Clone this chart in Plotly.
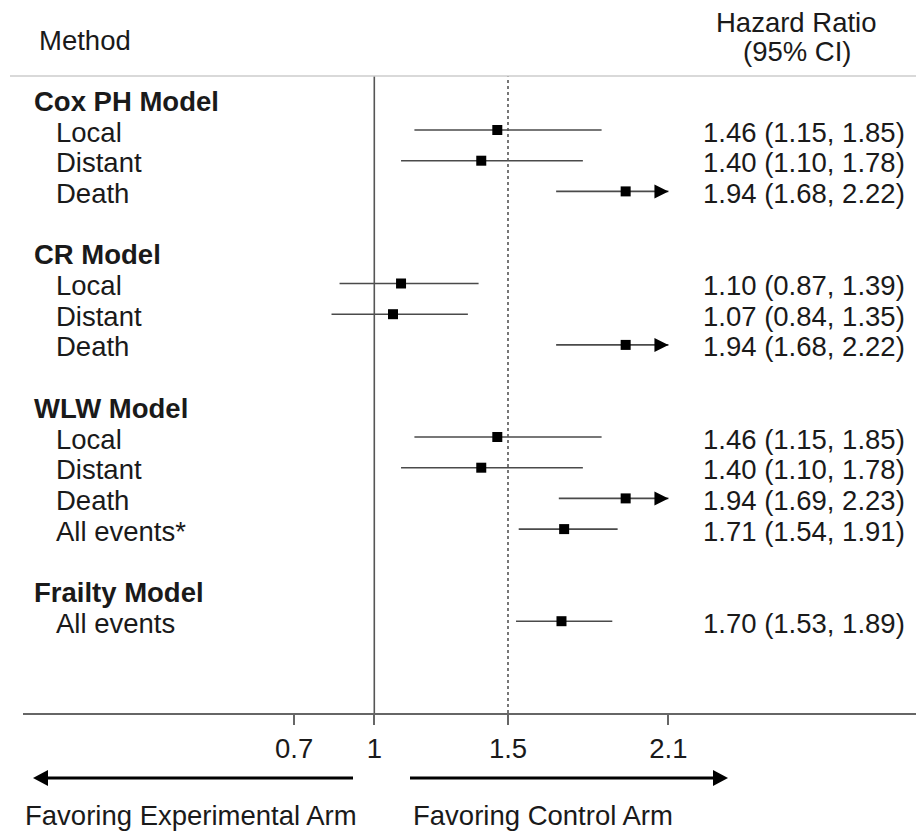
import plotly.graph_objects as go

FONT = "Liberation Sans, Arial, sans-serif"
TEXT_COLOR = "#1a1a1a"
FONT_SIZE = 27.5

# ---- data -------------------------------------------------------------
group_names = ["Cox PH Model", "CR Model", "WLW Model", "Frailty Model"]

cox_outcomes = ["Local", "Distant", "Death"]
cox_hr = [1.46, 1.40, 1.94]
cox_lo = [1.15, 1.10, 1.68]
cox_hi = [1.85, 1.78, 2.22]

cr_outcomes = ["Local", "Distant", "Death"]
cr_hr = [1.10, 1.07, 1.94]
cr_lo = [0.87, 0.84, 1.68]
cr_hi = [1.39, 1.35, 2.22]

wlw_outcomes = ["Local", "Distant", "Death", "All events*"]
wlw_hr = [1.46, 1.40, 1.94, 1.71]
wlw_lo = [1.15, 1.10, 1.69, 1.54]
wlw_hi = [1.85, 1.78, 2.23, 1.91]

frailty_outcomes = ["All events"]
frailty_hr = [1.70]
frailty_lo = [1.53]
frailty_hi = [1.89]

tick_values = [0.7, 1.0, 1.5, 2.1]
tick_labels = ["0.7", "1", "1.5", "2.1"]

null_value = 1.0        # no-effect line
reference_value = 1.5   # dashed reference line
display_max = 2.1       # intervals beyond this end in an arrow

# ---- layout geometry (pixels) -----------------------------------------
W, H = 916, 833
ML, MR, MT, MB = 23, 0, 76, 120
PW, PH = W - ML - MR, H - MT - MB


def px_x(px):
    return (px - ML) / PW


def px_y(py):
    return (H - MB - py) / PH


# ---- assemble rows ----------------------------------------------------
groups = [
    (group_names[0], cox_outcomes, cox_hr, cox_lo, cox_hi),
    (group_names[1], cr_outcomes, cr_hr, cr_lo, cr_hi),
    (group_names[2], wlw_outcomes, wlw_hr, wlw_lo, wlw_hi),
    (group_names[3], frailty_outcomes, frailty_hr, frailty_lo, frailty_hi),
]

headers = []
items = []
row = 0
for name, outs, hrs, los, his in groups:
    headers.append((name, row))
    row += 1
    for o, h, l, u in zip(outs, hrs, los, his):
        items.append(dict(label=o, hr=h, lo=l, hi=u, row=row))
        row += 1
    row += 1

fig = go.Figure()

# confidence interval segments
line_x, line_y = [], []
for it in items:
    line_x += [it["lo"], min(it["hi"], display_max), None]
    line_y += [it["row"], it["row"], None]
fig.add_trace(go.Scatter(
    x=line_x, y=line_y, mode="lines",
    line=dict(color="#4a4a4a", width=1.6),
    hoverinfo="skip", showlegend=False,
))

# point estimates
fig.add_trace(go.Scatter(
    x=[it["hr"] for it in items], y=[it["row"] for it in items],
    mode="markers",
    marker=dict(symbol="square", size=10, color="#000000"),
    showlegend=False,
))

shapes = []

# arrowheads for truncated intervals
for it in items:
    if it["hi"] > display_max:
        shapes.append(dict(
            type="path", xref="x", yref="y",
            xsizemode="pixel", ysizemode="pixel",
            xanchor=display_max, yanchor=it["row"],
            path="M-14,-7 L0,0 L-14,7 Z",
            fillcolor="#000000", line=dict(width=0),
        ))

# no-effect and reference lines
shapes.append(dict(type="line", xref="x", yref="paper",
                   x0=null_value, x1=null_value, y0=0, y1=1,
                   line=dict(color="#555555", width=1.6)))
shapes.append(dict(type="line", xref="x", yref="paper",
                   x0=reference_value, x1=reference_value, y0=0, y1=1,
                   line=dict(color="#555555", width=1.6, dash="3px,3px")))

# header separator
shapes.append(dict(type="line", xref="paper", yref="paper",
                   x0=px_x(10), x1=1, y0=1, y1=1,
                   line=dict(color="#cccccc", width=1.5)))

# direction arrows under the axis
arrow_y = px_y(778)
shapes.append(dict(type="line", xref="paper", yref="paper",
                   x0=px_x(353), x1=px_x(45), y0=arrow_y, y1=arrow_y,
                   line=dict(color="#000000", width=2.8)))
shapes.append(dict(type="path", xref="paper", yref="paper",
                   xsizemode="pixel", ysizemode="pixel",
                   xanchor=px_x(33), yanchor=arrow_y,
                   path="M0,0 L15,-8 L15,8 Z",
                   fillcolor="#000000", line=dict(width=0)))
shapes.append(dict(type="line", xref="paper", yref="paper",
                   x0=px_x(410), x1=px_x(716), y0=arrow_y, y1=arrow_y,
                   line=dict(color="#000000", width=2.8)))
shapes.append(dict(type="path", xref="paper", yref="paper",
                   xsizemode="pixel", ysizemode="pixel",
                   xanchor=px_x(728), yanchor=arrow_y,
                   path="M0,0 L-15,-8 L-15,8 Z",
                   fillcolor="#000000", line=dict(width=0)))

annotations = []


def text(s, x, y, xanchor="left", yref="paper", bold=False, yshift=0):
    annotations.append(dict(
        text=f"<b>{s}</b>" if bold else s,
        x=x, y=y, xref="paper", yref=yref,
        xanchor=xanchor, yanchor="middle", showarrow=False,
        yshift=yshift,
        font=dict(family=FONT, size=FONT_SIZE, color=TEXT_COLOR),
    ))


# column headers
text("Method", px_x(37), px_y(40))
text("Hazard Ratio", px_x(796), px_y(22), xanchor="center")
text("(95% CI)", px_x(797), px_y(52), xanchor="center")

# row labels
for name, r in headers:
    text(name, px_x(32), r, yref="y", bold=True, yshift=-2)
for it in items:
    text(it["label"], px_x(54), it["row"], yref="y", yshift=-2)
    text(f"{it['hr']:.2f} ({it['lo']:.2f}, {it['hi']:.2f})",
         px_x(907), it["row"], xanchor="right", yref="y", yshift=-2)

# direction captions
text("Favoring Experimental Arm", px_x(23), px_y(815))
text("Favoring Control Arm", px_x(411), px_y(815))

# pixel -> data scale for the horizontal axis
x_left = (ML - 106.9) / 267.4
x_right = (W - MR - 106.9) / 267.4
row_top = (MT - 99.3) / 30.7
row_bottom = (H - MB - 99.3) / 30.7

fig.update_layout(
    width=W, height=H,
    margin=dict(l=ML, r=MR, t=MT, b=MB, pad=0),
    paper_bgcolor="white", plot_bgcolor="white",
    showlegend=False,
    shapes=shapes,
    annotations=annotations,
    xaxis=dict(
        range=[x_left, x_right],
        tickvals=tick_values, ticktext=tick_labels,
        showgrid=False, zeroline=False,
        showline=True, linecolor="#666666", linewidth=1.6,
        ticks="outside", ticklen=10, tickwidth=1.6, tickcolor="#666666",
        tickfont=dict(family=FONT, size=FONT_SIZE, color=TEXT_COLOR),
        fixedrange=True,
    ),
    yaxis=dict(
        range=[row_bottom, row_top],
        visible=False, fixedrange=True,
    ),
)

fig.write_html("out.html", include_plotlyjs=True, config={"displayModeBar": False})
